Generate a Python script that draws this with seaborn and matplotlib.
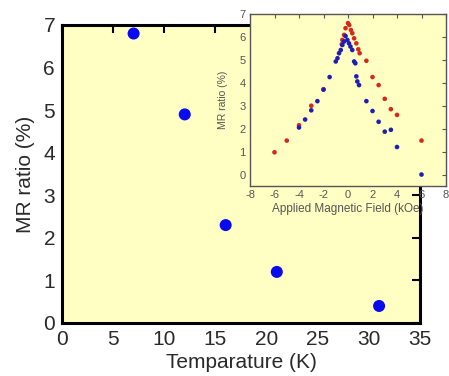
import matplotlib
matplotlib.use("Agg")
import matplotlib.pyplot as plt
import seaborn as sns
import pandas as pd

sns.set_theme(style="white")
plt.rcParams['font.family'] = ['Liberation Sans', 'DejaVu Sans']
plt.rcParams['axes.unicode_minus'] = False

# Main data
temperature = [7, 12, 16, 21, 31]
mr_ratio = [6.8, 4.9, 2.3, 1.2, 0.4]

# Inset data (red series)
red_field = [-6, -5, -4, -3, -2, -0.51, -0.46, -0.32, -0.2, 0.0, 0.1, 0.24, 0.35, 0.5, 0.68, 0.84, 0.95,
             1.5, 2, 2.5, 3, 3.5, 4, 6]
red_mr = [0.97, 1.48, 2.15, 3.0, 3.72, 5.68, 5.87, 6.09, 6.38, 6.6, 6.52, 6.3, 6.16, 5.94, 5.72, 5.46, 5.29,
          4.96, 4.25, 3.9, 3.3, 2.85, 2.6, 1.48]
# Inset data (blue series)
blue_field = [-4, -3.5, -3, -2.5, -2, -1.5, -1, -0.86, -0.73, -0.59, -0.46, -0.32, -0.2, -0.05, 0.08, 0.2,
              0.35, 0.5, 0.6, 0.68, 0.76, 0.9, 1.5, 2, 2.5, 3, 3.5, 4, 6]
blue_mr = [2.05, 2.4, 2.8, 3.2, 3.7, 4.25, 4.93, 5.07, 5.29, 5.43, 5.65, 5.8, 6.04, 5.87, 5.72, 5.58,
           5.43, 4.93, 4.85, 4.28, 4.06, 3.9, 3.2, 2.77, 2.3, 1.87, 1.95, 1.2, 0.0]

main_df = pd.DataFrame({"T": temperature, "MR": mr_ratio})
red_df = pd.DataFrame({"H": red_field, "MR": red_mr})
blue_df = pd.DataFrame({"H": blue_field, "MR": blue_mr})

fig = plt.figure(figsize=(4.49, 3.76), dpi=100)
bg = "#FFFFC4"

ax = fig.add_axes([62/449, 1-323/376, (420-62)/449, (323-25)/376])
ax.set_facecolor(bg)
sns.scatterplot(data=main_df, x="T", y="MR", ax=ax, color="#0A0AF0", s=75, edgecolor="none", zorder=3)
ax.set_xlim(0, 35)
ax.set_ylim(0, 7)
ax.set_xticks(range(0, 36, 5))
ax.set_yticks(range(0, 8))
for s in ax.spines.values():
    s.set_linewidth(2.2)
    s.set_color("black")
ax.tick_params(direction="in", length=6, width=1.5, labelsize=15, top=True, right=True,
               colors="black", labelcolor="#2a2a2a", pad=5)
ax.set_xlabel("Temparature (K)", fontsize=15, color="#2a2a2a", labelpad=3)
ax.set_ylabel("MR ratio (%)", fontsize=15, color="#2a2a2a", labelpad=6)

# Inset
ax2 = fig.add_axes([250/449, 1-186/376, (446-250)/449, (186-14)/376])
ax2.set_facecolor(bg)
ax2.set_zorder(5)
sns.scatterplot(data=red_df, x="H", y="MR", ax=ax2, color="#D42A1E", s=11, edgecolor="none", zorder=3)
sns.scatterplot(data=blue_df, x="H", y="MR", ax=ax2, color="#1E1EB4", s=11, edgecolor="none", zorder=4)
ax2.set_xlim(-8, 8)
ax2.set_ylim(-0.5, 7)
ax2.set_xticks(range(-8, 9, 2))
ax2.set_yticks(range(0, 8))
for s in ax2.spines.values():
    s.set_linewidth(1.0)
    s.set_color("#555555")
ax2.tick_params(direction="in", length=3, width=0.8, labelsize=8, top=True, right=True,
                colors="#555555", labelcolor="#555555", pad=3)
ax2.set_xlabel("Applied Magnetic Field (kOe)", fontsize=8.5, color="#555555", labelpad=2)
ax2.set_ylabel("MR ratio (%)", fontsize=7.5, color="#555555", labelpad=8)

fig.savefig("out.png", dpi=100)
